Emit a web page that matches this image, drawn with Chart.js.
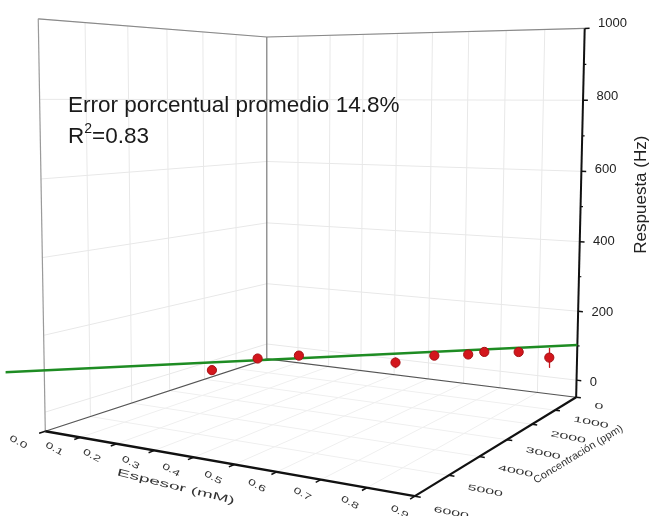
<!DOCTYPE html>
<html>
<head>
<meta charset="utf-8">
<script src="https://cdn.jsdelivr.net/npm/chart.js@4.4.1/dist/chart.umd.min.js"></script>
<style>
  body { margin: 0; background: #fff; }
  canvas { display: block; }
</style>
</head>
<body>
<canvas id="chart" width="658" height="516"></canvas>
<script>
// axis ranges and ticks
const espesorRange = [0, 0.9];
const concRange = [0, 6000];
const respRange = [-50, 1000];
const espesorTicks = [0.0, 0.1, 0.2, 0.3, 0.4, 0.5, 0.6, 0.7, 0.8, 0.9];
const concTicks = [0, 1000, 2000, 3000, 4000, 5000, 6000];
const respTicks = [0, 200, 400, 600, 800, 1000];
const respMinor = [100, 300, 500, 700, 900];

// measured points
const espesor = [0.293, 0.363, 0.428, 0.585, 0.65, 0.708, 0.737, 0.797, 0.852];
const concentracion = [4550, 4030, 3555, 2395, 1910, 1480, 1290, 835, 425];
const respuesta = [100, 123, 124, 88, 100, 97, 102, 95, 73];
const errorResp = [8, 7, 7, 14, 7, 7, 7, 7, 28];

// fitted line ends
const ajusteEspesor = [0.9, 0];
const ajusteConc = [0, 6850];
const ajusteResp = [102, 132];

const W = 658, H = 516, S = 500;

// view: box corners (normalised) -> canvas position
const VIEW = [
  [0, 1, 0, 40, 435],
  [1, 1, 0, 417, 501],
  [1, 0, 0, 580, 401],
  [0, 0, 0, 266, 361],
  [0, 0, 1, 266, 32],
  [0, 1, 1, 33, 14],
  [1, 0, 1, 589, 23],
];

function norm(x, y, z) {
  return [
    (x - espesorRange[0]) / (espesorRange[1] - espesorRange[0]),
    (y - concRange[0]) / (concRange[1] - concRange[0]),
    (z - respRange[0]) / (respRange[1] - respRange[0]),
  ];
}

// least squares fit of a 3x4 perspective matrix to the view corners
function fitProjection(anchors) {
  const rows = [], rhs = [];
  anchors.forEach(([a, b, c, u0, v0]) => {
    const u = u0 / S, v = v0 / S;
    rows.push([a, b, c, 1, 0, 0, 0, 0, -u * a, -u * b, -u * c]); rhs.push(u);
    rows.push([0, 0, 0, 0, a, b, c, 1, -v * a, -v * b, -v * c]); rhs.push(v);
  });
  const n = 11;
  const M = Array.from({ length: n }, () => new Array(n + 1).fill(0));
  rows.forEach((r, k) => {
    for (let i = 0; i < n; i++) {
      for (let j = 0; j < n; j++) M[i][j] += r[i] * r[j];
      M[i][n] += r[i] * rhs[k];
    }
  });
  for (let col = 0; col < n; col++) {
    let piv = col;
    for (let r = col + 1; r < n; r++) if (Math.abs(M[r][col]) > Math.abs(M[piv][col])) piv = r;
    [M[col], M[piv]] = [M[piv], M[col]];
    for (let r = 0; r < n; r++) {
      if (r === col) continue;
      const f = M[r][col] / M[col][col];
      for (let c = col; c <= n; c++) M[r][c] -= f * M[col][c];
    }
  }
  const p = M.map((row, i) => row[n] / row[i]);
  return [[p[0], p[1], p[2], p[3]], [p[4], p[5], p[6], p[7]], [p[8], p[9], p[10], 1]];
}

const P = fitProjection(VIEW);

function projN(a, b, c) {
  const w = P[2][0] * a + P[2][1] * b + P[2][2] * c + P[2][3];
  return {
    x: S * (P[0][0] * a + P[0][1] * b + P[0][2] * c + P[0][3]) / w,
    y: S * (P[1][0] * a + P[1][1] * b + P[1][2] * c + P[1][3]) / w,
  };
}
function project(x, y, z) { return projN(...norm(x, y, z)); }

const datasets = [];
function seg(pts, color, width, order) {
  datasets.push({
    data: pts.map(p => project(...p)),
    showLine: true, borderColor: color, borderWidth: width,
    pointRadius: 0, order: order,
  });
}

const [x0, x1] = espesorRange, [y0, y1] = concRange, [z0, z1] = respRange;

// wall and floor grid
const GRID = '#e8e8e8';
const FLOOR_GRID = '#efefef';
concTicks.slice(1, -1).forEach(c => seg([[x0, c, z0], [x0, c, z1]], GRID, 1, 50));
espesorTicks.slice(1, -1).forEach(e => seg([[e, y0, z0], [e, y0, z1]], GRID, 1, 50));
respTicks.forEach(r => {
  seg([[x0, y1, r], [x0, y0, r]], GRID, 1, 50);
  seg([[x0, y0, r], [x1, y0, r]], GRID, 1, 50);
});
concTicks.slice(1, -1).forEach(c => seg([[x0, c, z0], [x1, c, z0]], FLOOR_GRID, 1, 50));
espesorTicks.slice(1, -1).forEach(e => seg([[e, y0, z0], [e, y1, z0]], FLOOR_GRID, 1, 50));

// box frame
seg([[x0, y1, z0], [x0, y1, z1]], '#9a9a9a', 1.2, 40);
seg([[x0, y1, z1], [x0, y0, z1], [x1, y0, z1]], '#8a8a8a', 1.2, 40);
seg([[x0, y0, z0], [x0, y0, z1]], '#7a7a7a', 1.2, 40);
seg([[x0, y1, z0], [x0, y0, z0], [x1, y0, z0]], '#555555', 1.2, 40);

// axes
seg([[x0, y1, z0], [x1, y1, z0]], '#111', 2.4, 30);
seg([[x1, y1, z0], [x1, y0, z0]], '#111', 2.2, 30);
seg([[x1, y0, z0], [x1, y0, z1]], '#111', 2, 30);
espesorTicks.forEach(e => seg([[e, y1, z0], [e, y1 + 130, z0]], '#111', 1.5, 30));
concTicks.forEach(c => seg([[x1, c, z0], [x1 + 0.012, c, z0]], '#111', 1.5, 30));
respTicks.forEach(r => seg([[x1, y0, r], [x1 + 0.012, y0, r]], '#111', 1.5, 30));
respMinor.forEach(r => seg([[x1, y0, r], [x1 + 0.006, y0, r]], '#111', 1.2, 30));

// fitted line
seg([[ajusteEspesor[0], ajusteConc[0], ajusteResp[0]], [ajusteEspesor[1], ajusteConc[1], ajusteResp[1]]], '#1e8c23', 2.5, 20);

// error bars and points
espesor.forEach((e, i) => {
  seg([[e, concentracion[i], respuesta[i] - errorResp[i]], [e, concentracion[i], respuesta[i] + errorResp[i]]], '#c8191e', 1.3, 11);
});
datasets.push({
  data: espesor.map((e, i) => project(e, concentracion[i], respuesta[i])),
  pointRadius: 4.6, pointBackgroundColor: '#d3161c', pointBorderColor: '#a50f14',
  pointBorderWidth: 1, showLine: false, order: 10,
});

// text rotated and stretched in screen space
function skewText(ctx, text, p, angle, sx, sy) {
  ctx.save();
  ctx.translate(p.x, p.y);
  ctx.rotate(angle);
  ctx.scale(sx, sy);
  ctx.fillText(text, 0, 0);
  ctx.restore();
}

const textPlugin = {
  id: 'texts',
  afterDatasetsDraw(chart) {
    const ctx = chart.ctx;
    ctx.save();
    ctx.fillStyle = '#222';
    ctx.textBaseline = 'middle';
    const FONT = '"Liberation Sans", Arial, sans-serif';

    // Respuesta ticks
    ctx.font = '13px ' + FONT;
    ctx.textAlign = 'left';
    respTicks.forEach(r => {
      const p = project(x1, y0, r);
      ctx.fillText(String(r), p.x + 9, p.y);
    });
    ctx.font = '17px ' + FONT;
    ctx.textAlign = 'center';
    const pm = project(x1, y0, 530);
    skewText(ctx, 'Respuesta (Hz)', { x: pm.x + 56, y: pm.y }, -Math.PI / 2, 1, 1);

    // Espesor ticks and title
    ctx.fillStyle = '#333';
    ctx.font = '11px ' + FONT;
    ctx.textAlign = 'center';
    espesorTicks.forEach(e => {
      skewText(ctx, e.toFixed(1), project(e, y1 + 450, z0), 0.5, 1.25, 0.8);
    });
    ctx.font = '12px ' + FONT;
    const pt = project(0.52, y1 + 1050, z0);
    skewText(ctx, 'Espesor (mM)', { x: pt.x - 18, y: pt.y - 5 }, 0.24, 1.6, 0.85);

    // Concentracion ticks and title
    ctx.font = '10px ' + FONT;
    ctx.textAlign = 'left';
    concTicks.forEach(c => {
      skewText(ctx, String(c), project(x1 + 0.035, c, z0 - 10), 0.2, 1.6, 0.8);
    });
    ctx.font = '11px ' + FONT;
    ctx.textAlign = 'center';
    const pc = project(x1 + 0.16, 3000, z0);
    skewText(ctx, 'Concentración (ppm)', { x: pc.x - 5, y: pc.y }, -0.55, 1.0, 0.95);

    // annotation
    ctx.textAlign = 'left';
    ctx.textBaseline = 'alphabetic';
    ctx.fillStyle = '#1a1a1a';
    ctx.font = '22.5px ' + FONT;
    ctx.fillText('Error porcentual promedio 14.8%', 68, 112);
    ctx.fillText('R', 68, 143);
    const rw = ctx.measureText('R').width;
    ctx.font = '14px ' + FONT;
    ctx.fillText('2', 68 + rw, 133);
    const sw = ctx.measureText('2').width;
    ctx.font = '22.5px ' + FONT;
    ctx.fillText('=0.83', 68 + rw + sw, 143);
    ctx.restore();
  },
};

new Chart(document.getElementById('chart').getContext('2d'), {
  type: 'scatter',
  data: { datasets },
  options: {
    animation: false,
    responsive: false,
    layout: { padding: 0 },
    plugins: { legend: { display: false }, tooltip: { enabled: false } },
    scales: {
      x: { type: 'linear', min: 0, max: W, display: false },
      y: { type: 'linear', min: 0, max: H, reverse: true, display: false },
    },
  },
  plugins: [textPlugin],
});
</script>
</body>
</html>
